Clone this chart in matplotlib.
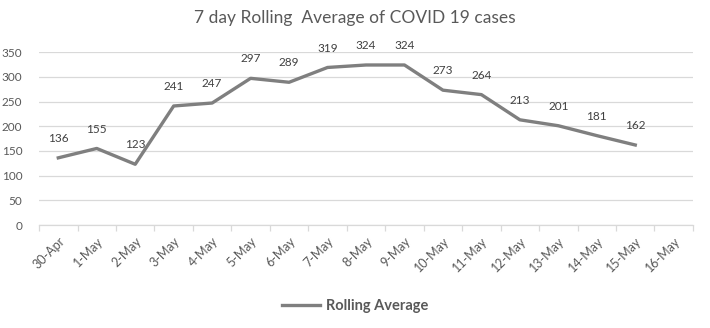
import numpy as np
import matplotlib
matplotlib.use("Agg")
import matplotlib.pyplot as plt
import matplotlib.ticker as mticker

plt.rcParams["font.family"] = ["Lato", "DejaVu Sans"]

# ─── Data ─────────────────────────────────────────────────────────────────────
dates = ["30-Apr", "1-May", "2-May", "3-May", "4-May", "5-May", "6-May", "7-May",
         "8-May", "9-May", "10-May", "11-May", "12-May", "13-May", "14-May",
         "15-May", "16-May"]
rolling_avg = [136, 155, 123, 241, 247, 297, 289, 319, 324, 324, 273, 264,
               213, 201, 181, 162, np.nan]

TEXT = "#595959"
LINE = "#7f7f7f"
GRID = "#d9d9d9"

fig = plt.figure(figsize=(7.10, 3.28), dpi=100)
ax = fig.add_axes([0.055, 0.314, 0.921, 0.527])

x = np.arange(len(dates))
ax.plot(x, rolling_avg, color=LINE, linewidth=2.4, solid_joinstyle="round",
        label="Rolling Average")

for xi, v in zip(x, rolling_avg):
    if np.isnan(v):
        continue
    ax.annotate(f"{v:.0f}", (xi, v), xytext=(0, 14), textcoords="offset points",
                ha="center", va="center", fontsize=8.5, color="#404040")

ax.set_ylim(0, 350)
ax.set_xlim(-0.5, len(dates) - 0.5)
ax.yaxis.set_major_locator(mticker.MultipleLocator(50))
ax.grid(True, axis="y", color=GRID, linewidth=0.9)
ax.set_axisbelow(True)

ax.set_xticks(x)
ax.set_xticklabels(dates, rotation=45, ha="right", rotation_mode="anchor",
                   fontsize=9, color=TEXT)
ax.set_xticks(np.arange(-0.5, len(dates)), minor=True)
ax.tick_params(axis="x", which="major", length=0, pad=7)
ax.tick_params(axis="x", which="minor", length=4, color=GRID, width=0.9)
ax.tick_params(axis="y", length=0, labelsize=8.5, labelcolor=TEXT, pad=12)

for side in ("top", "right", "left"):
    ax.spines[side].set_visible(False)
ax.spines["bottom"].set_color(GRID)
ax.spines["bottom"].set_linewidth(0.9)

fig.text(0.5, 0.945, "7 day Rolling  Average of COVID 19 cases", ha="center",
         va="center", fontsize=12.5, color=TEXT)

leg = fig.legend(loc="center", bbox_to_anchor=(0.5, 0.068), frameon=False,
                 handlelength=2.6, handletextpad=0.4,
                 prop={"weight": "bold", "size": 10.5})
for t in leg.get_texts():
    t.set_color(TEXT)

fig.savefig("out.png", dpi=100)
